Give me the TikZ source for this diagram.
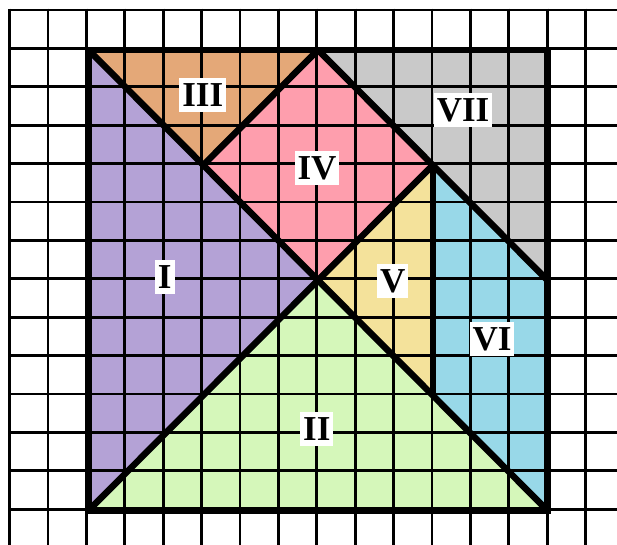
\documentclass[tikz,border=0pt]{standalone}
\usepackage{fontspec}
\setmainfont{Liberation Serif}
\definecolor{cI}{RGB}{180,162,214}
\definecolor{cII}{RGB}{213,247,186}
\definecolor{cIII}{RGB}{228,168,120}
\definecolor{cIV}{RGB}{254,158,173}
\definecolor{cV}{RGB}{244,226,155}
\definecolor{cVI}{RGB}{152,216,232}
\definecolor{cVII}{RGB}{201,201,201}
\tikzset{
  gridline/.style={line width=2.8pt,black},
  edge/.style={line width=6.5pt,black,line join=miter},
  piecelabel/.style={fill=white,inner xsep=3pt,inner ysep=5.5pt,text height=23pt,text depth=0pt,
    font=\bfseries\fontsize{35}{35}\selectfont}
}
\begin{document}
\begin{tikzpicture}[x=1pt,y=-1pt]
\useasboundingbox (0,0) rectangle (617,544);
\begin{scope}
\clip (0,0) rectangle (617,544);
\coordinate (p00) at (88.5,50);
\coordinate (p60) at (318,50);
\coordinate (p120) at (547.5,50);
\coordinate (p33) at (203.25,165.125);
\coordinate (p93) at (432.75,165.125);
\coordinate (p66) at (318,280.25);
\coordinate (p126) at (547.5,280.25);
\coordinate (p99) at (432.75,395.375);
\coordinate (p012) at (88.5,510.5);
\coordinate (p1212) at (547.5,510.5);
% pieces
\fill[cI] (p00) -- (p66) -- (p012) -- cycle;
\fill[cII] (p012) -- (p66) -- (p1212) -- cycle;
\fill[cIII] (p00) -- (p60) -- (p33) -- cycle;
\fill[cIV] (p60) -- (p93) -- (p66) -- (p33) -- cycle;
\fill[cV] (p93) -- (p99) -- (p66) -- cycle;
\fill[cVI] (p93) -- (p126) -- (p1212) -- (p99) -- cycle;
\fill[cVII] (p60) -- (p120) -- (p126) -- (p93) -- cycle;
% grid
\foreach \k in {0,...,15} \draw[gridline] ({9.5+38.4*\k},8.6) -- ({9.5+38.4*\k},550);
\foreach \k in {0,...,13} \draw[gridline] (8.1,{10+38.4*\k}) -- (620,{10+38.4*\k});
% thick edges
\draw[edge] (p00) rectangle (p1212);
\draw[edge] (p00) -- (p1212);
\draw[edge] (p012) -- (p93);
\draw[edge] (p33) -- (p60);
\draw[edge] (p60) -- (p126);
\draw[edge] (p93) -- (p99);
% labels
\node[piecelabel] (lI) at (164.7,276.8) {I};
\node[piecelabel] (lII) at (316.8,428.8) {II};
\node[piecelabel] (lIII) at (202.7,94.5) {III};
\node[piecelabel] (lIV) at (317,167.5) {IV};
\node[piecelabel] (lV) at (392.8,281) {V};
\node[piecelabel] (lVI) at (492,339) {VI};
\node[piecelabel] (lVII) at (463,109.5) {VII};
\end{scope}
\end{tikzpicture}
\end{document}
